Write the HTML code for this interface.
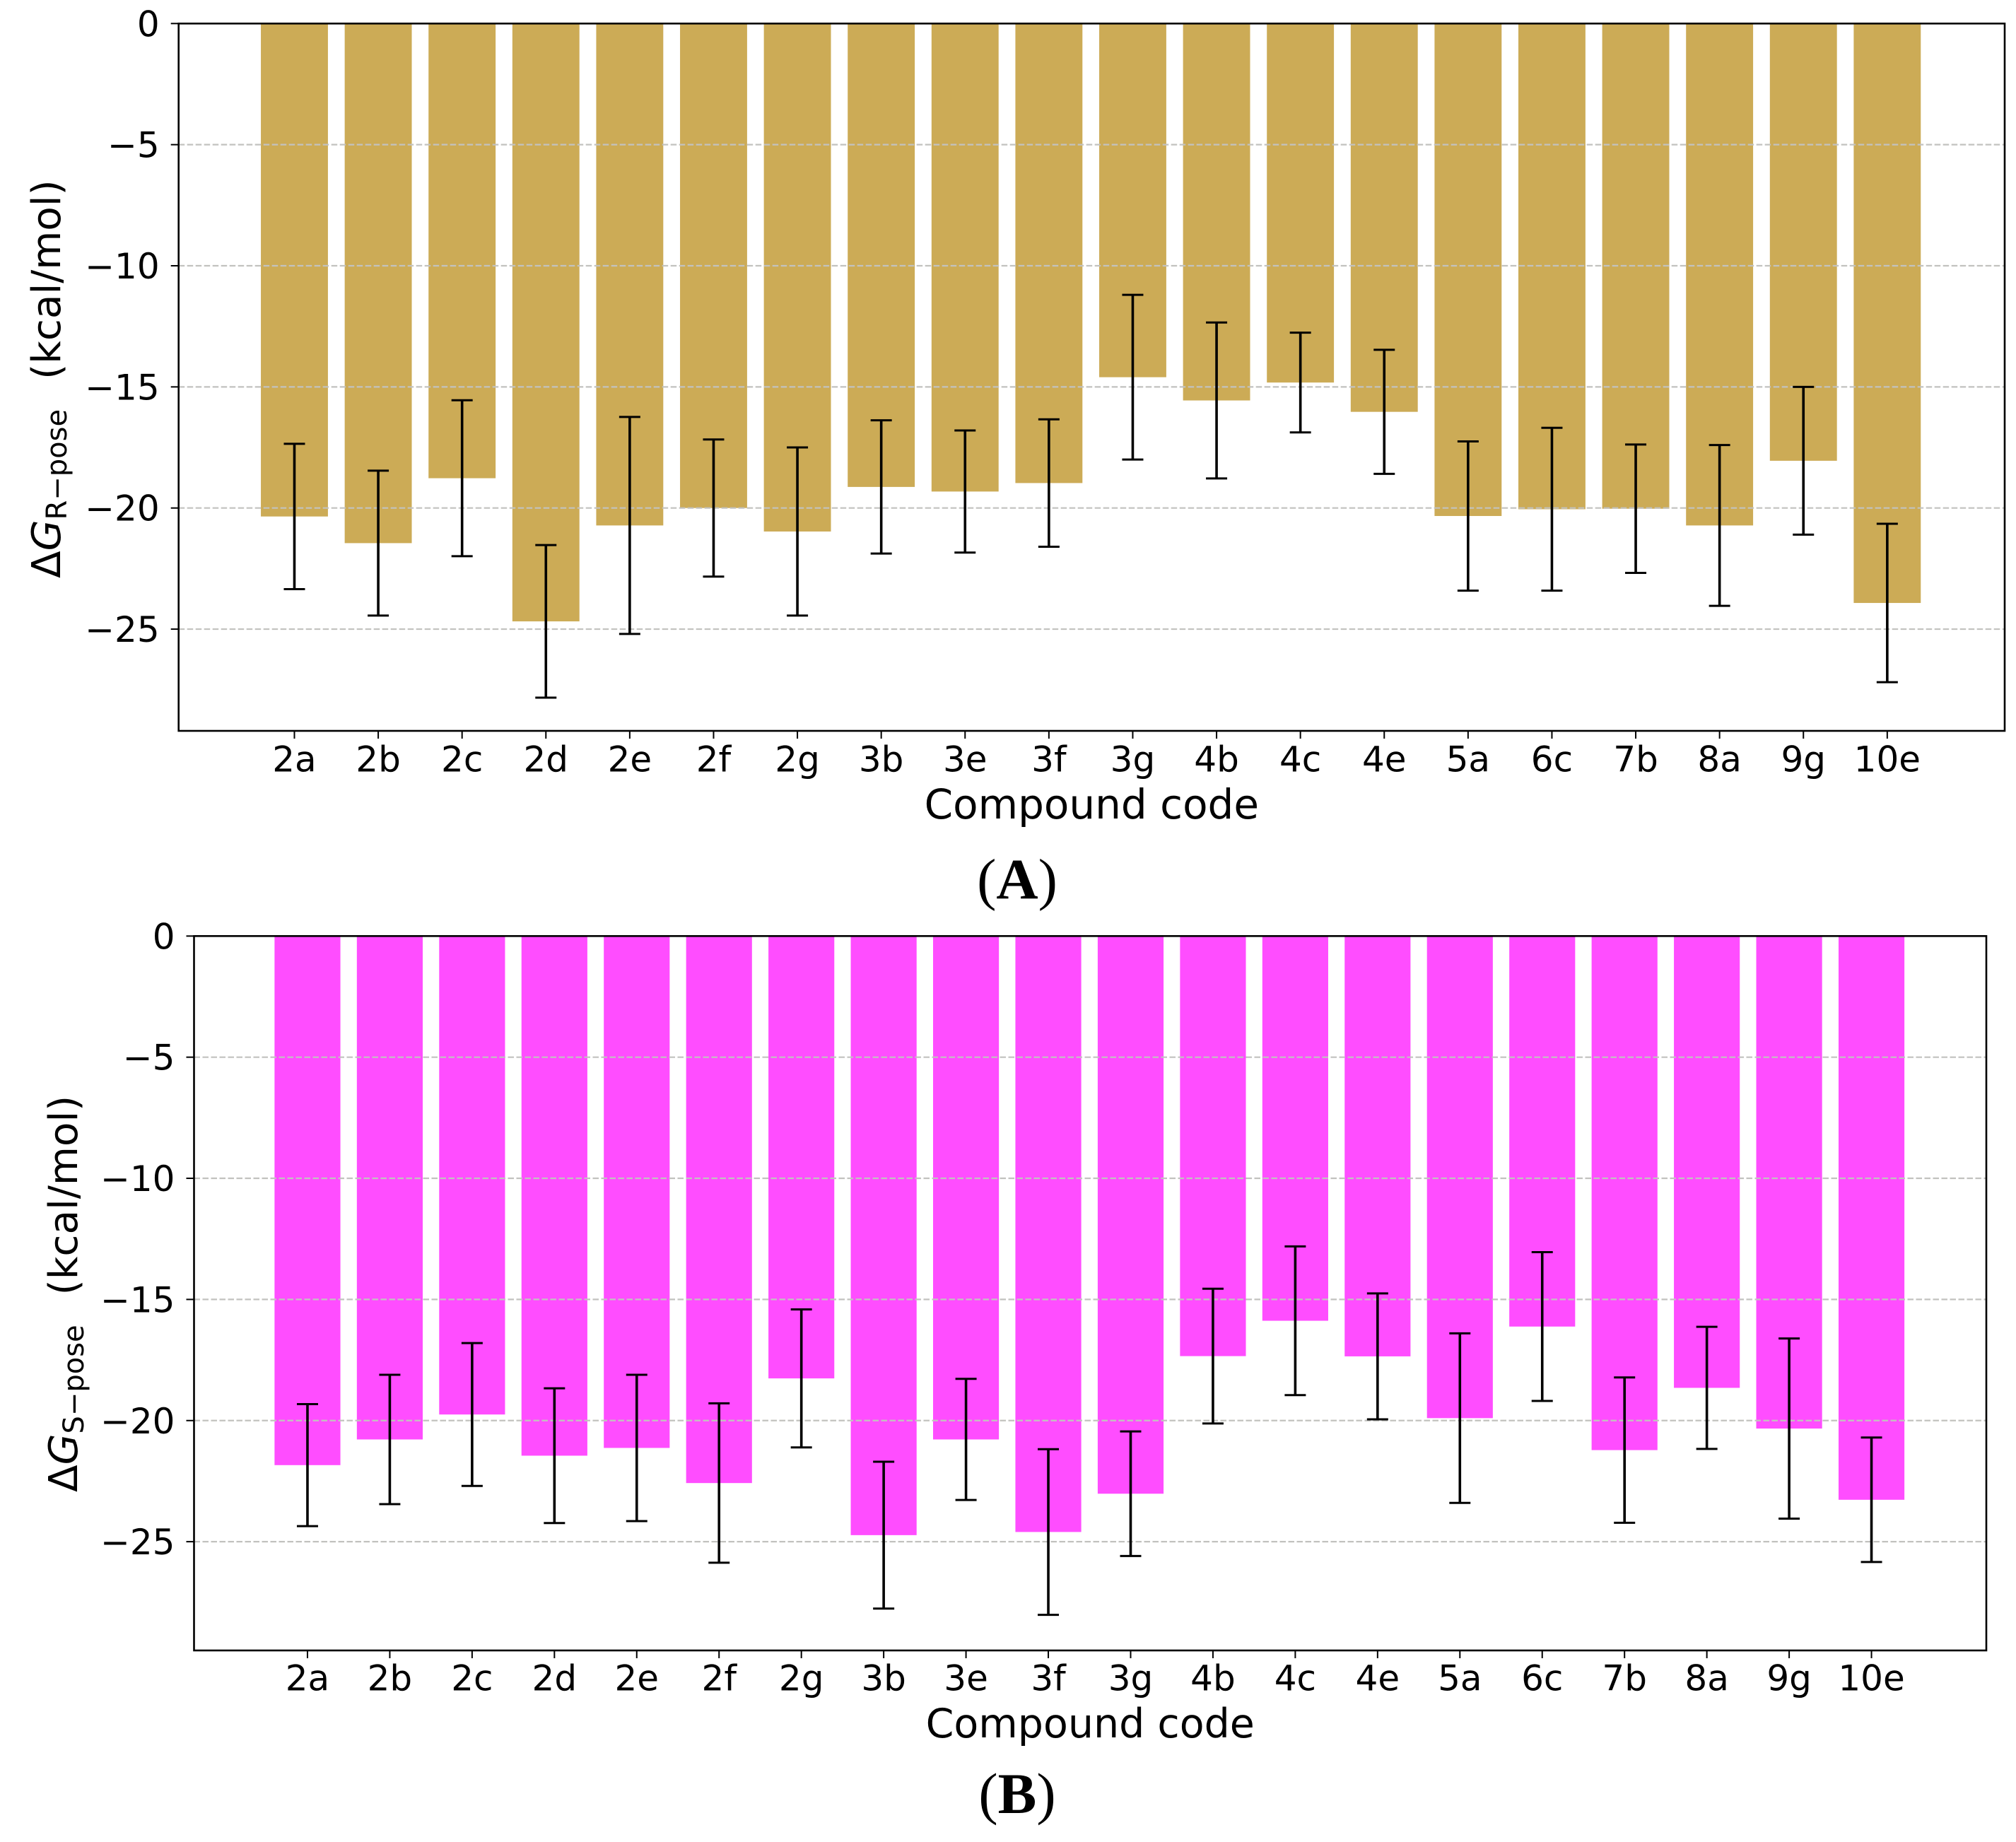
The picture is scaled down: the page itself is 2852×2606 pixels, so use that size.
<!DOCTYPE html>
<html lang="en">
<head>
<meta charset="utf-8">
<title>Binding free energy by compound code</title>
<style>
html,body{margin:0;padding:0;background:#fff;}
svg{display:block;}
text{font-family:"DejaVu Sans",sans-serif;fill:#000;}
.panel-tag{font-family:"Liberation Serif",serif;font-weight:bold;}
</style>
</head>
<body>
<svg id="figure" xmlns="http://www.w3.org/2000/svg" width="2852" height="2606" viewBox="0 0 2852 2606"></svg>
<script>
const categoriesA = ['2a','2b','2c','2d','2e','2f','2g','3b','3e','3f','3g','4b','4c','4e','5a','6c','7b','8a','9g','10e'];
const valuesA = [-20.35,-21.45,-18.77,-24.68,-20.72,-20,-20.97,-19.13,-19.32,-18.97,-14.6,-15.56,-14.82,-16.03,-20.33,-20.05,-20.03,-20.72,-18.05,-23.92];
const errorsA = [3,2.99,3.22,3.15,4.48,2.83,3.47,2.75,2.52,2.63,3.4,3.22,2.06,2.56,3.08,3.36,2.65,3.32,3.05,3.27];
const categoriesB = ['2a','2b','2c','2d','2e','2f','2g','3b','3e','3f','3g','4b','4c','4e','5a','6c','7b','8a','9g','10e'];
const valuesB = [-21.84,-20.78,-19.75,-21.45,-21.13,-22.58,-18.26,-24.73,-20.78,-24.6,-23.02,-17.34,-15.88,-17.35,-19.9,-16.12,-21.22,-18.65,-20.33,-23.27];
const errorsB = [2.52,2.67,2.95,2.78,3.02,3.29,2.85,3.03,2.5,3.42,2.57,2.78,3.07,2.6,3.5,3.07,3,2.52,3.72,2.57];
const yTickValues = [0,-5,-10,-15,-20,-25];

const svgNS = 'http://www.w3.org/2000/svg';
const figure = document.getElementById('figure');

function add(parent, tag, attrs, content) {
  const el = document.createElementNS(svgNS, tag);
  for (const key in attrs) el.setAttribute(key, attrs[key]);
  if (content !== undefined) el.textContent = content;
  parent.appendChild(el);
  return el;
}

function drawChart(cfg) {
  const xScale = v => cfg.left + (v - cfg.xMin) / (cfg.xMax - cfg.xMin) * (cfg.right - cfg.left);
  const yScale = v => cfg.top + (v - cfg.yMax) / (cfg.yMin - cfg.yMax) * (cfg.bottom - cfg.top);

  const panel = add(figure, 'g', {});
  
  

  cfg.categories.forEach((cat, i) => {
    const x0 = xScale(i - 0.4);
    const x1 = xScale(i + 0.4);
    const bar = add(panel, 'rect', {x: x0, y: yScale(0), width: x1 - x0, height: yScale(cfg.values[i]) - yScale(0), fill: cfg.color});
    
    
  });

  yTickValues.forEach(v => {
    const y = yScale(v);
    if (v !== 0) {
      const grid = add(panel, 'line', {x1: cfg.left, x2: cfg.right, y1: y, y2: y, stroke: '#c2c2bf', 'stroke-width': 2.2, 'stroke-dasharray': '8.5 3.5'});
      
      
    }
    const tick = add(panel, 'line', {x1: cfg.left - 11, x2: cfg.left, y1: y, y2: y, stroke: '#000', 'stroke-width': 2});
    
    
    const label = add(panel, 'text', {x: cfg.left - 27, y: y + 18, 'text-anchor': 'end', 'font-size': 50}, v === 0 ? '0' : '\u2212' + Math.abs(v));
    
    
  });

  cfg.categories.forEach((cat, i) => {
    const x = xScale(i);
    const yHi = yScale(cfg.values[i] + cfg.errors[i]);
    const yLo = yScale(cfg.values[i] - cfg.errors[i]);
    const stem = add(panel, 'line', {x1: x, x2: x, y1: yHi, y2: yLo, stroke: '#000', 'stroke-width': 3.6});
    
    
    [yHi, yLo].forEach(yc => {
      const cap = add(panel, 'line', {x1: x - 15, x2: x + 15, y1: yc, y2: yc, stroke: '#000', 'stroke-width': 3});
      
      
    });
    const tick = add(panel, 'line', {x1: x, x2: x, y1: cfg.bottom, y2: cfg.bottom + 11, stroke: '#000', 'stroke-width': 2});
    
    
    const label = add(panel, 'text', {x: x, y: cfg.tickBaseline, 'text-anchor': 'middle', 'font-size': 50}, cat);
    
    
  });

  const frame = add(panel, 'rect', {x: cfg.left, y: cfg.top, width: cfg.right - cfg.left, height: cfg.bottom - cfg.top, fill: 'none', stroke: '#000', 'stroke-width': 2.6});
  
  

  const xTitle = add(panel, 'text', {x: (cfg.left + cfg.right) / 2, y: cfg.xTitleBaseline, 'text-anchor': 'middle', 'font-size': cfg.xTitleSize}, 'Compound code');
  
  

  const yTitle = add(panel, 'text', {transform: 'translate(' + cfg.yTitleX + ' ' + cfg.yTitleY + ') rotate(-90)', 'font-size': 56.5});
  
  
  add(yTitle, 'tspan', {}, '\u0394');
  add(yTitle, 'tspan', {'font-style': 'italic'}, 'G');
  add(yTitle, 'tspan', {dy: 9, 'font-size': 40}, cfg.poseLabel);
  add(yTitle, 'tspan', {dy: -9, dx: 42}, '(kcal/mol)');

  const tag = add(panel, 'text', {x: 1439, y: cfg.tagBaseline, 'text-anchor': 'middle', 'font-size': 82, class: 'panel-tag'});
  
  
  tag.style.fontFamily = '"Liberation Serif", serif';
  add(tag, 'tspan', {'font-weight': 'normal'}, '(');
  add(tag, 'tspan', {}, cfg.tag);
  add(tag, 'tspan', {'font-weight': 'normal'}, ')');
}

drawChart({
  name: 'r-pose', categories: categoriesA, values: valuesA, errors: errorsA, color: '#ccab56',
  left: 252.7, right: 2836, top: 33.3, bottom: 1034,
  xMin: -1.381, xMax: 20.401, yMin: -29.2, yMax: 0,
  tickBaseline: 1091.7, xTitleBaseline: 1158, xTitleSize: 58,
  yTitleX: 85, yTitleY: 818, poseLabel: 'R\u2212pose',
  tag: 'A', tagBaseline: 1271.7
});
drawChart({
  name: 's-pose', categories: categoriesB, values: valuesB, errors: errorsB, color: '#ff4dff',
  left: 274.5, right: 2810, top: 1324.3, bottom: 2335,
  xMin: -1.378, xMax: 20.395, yMin: -29.49, yMax: 0,
  tickBaseline: 2391.7, xTitleBaseline: 2458, xTitleSize: 57,
  yTitleX: 109, yTitleY: 2111, poseLabel: 'S\u2212pose',
  tag: 'B', tagBaseline: 2565
});
</script>
</body>
</html>
